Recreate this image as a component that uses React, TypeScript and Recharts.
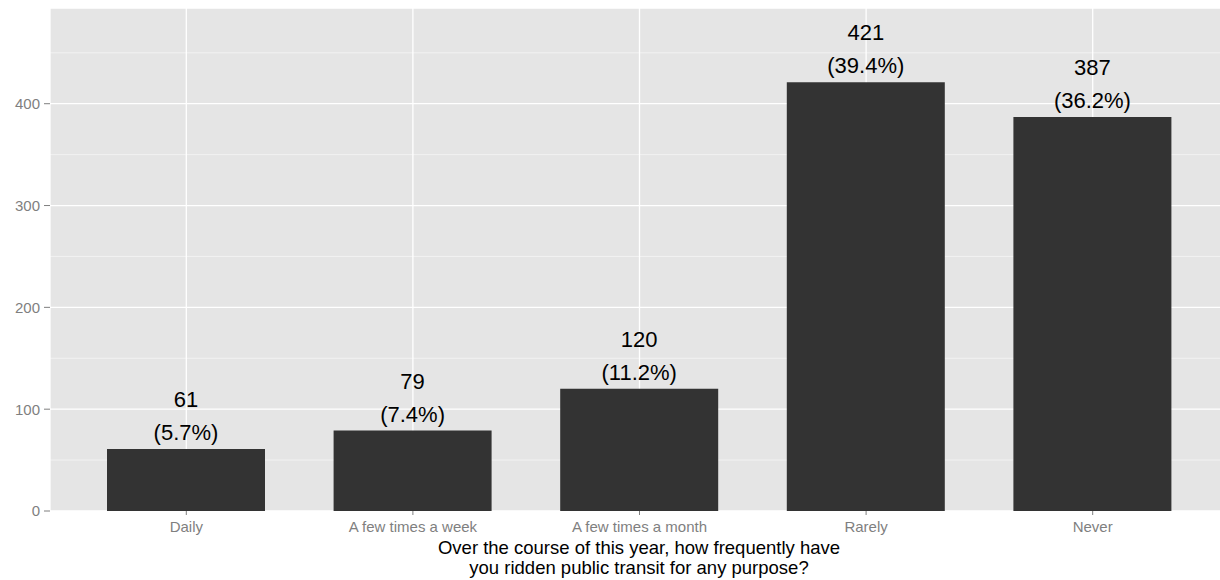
import React from "react"
import { BarChart, Bar, XAxis, YAxis, CartesianGrid, LabelList } from "recharts"

const categories = ["Daily", "A few times a week", "A few times a month", "Rarely", "Never"]
const counts = [61, 79, 120, 421, 387]
const shares = ["(5.7%)", "(7.4%)", "(11.2%)", "(39.4%)", "(36.2%)"]
const majorTicks = [0, 100, 200, 300, 400]
const minorTicks = [50, 150, 250, 350, 450]
const titleLines = [
  "Over the course of this year, how frequently have",
  "you ridden public transit for any purpose?",
]

const data = categories.map((name, i) => ({ name, count: counts[i], share: shares[i] }))

const FONT = "'Liberation Sans', Arial, Helvetica, sans-serif"
const AXIS_GREY = "#7f7f7f"

// axis title, two centred lines under the tick labels
const AxisTitle = (props: any) => {
  const vb = props.viewBox || {}
  const cx = vb.x + vb.width / 2
  return (
    <g fontSize={18.5} fill="#000" fontFamily={FONT}>
      {titleLines.map((line, i) => (
        <text key={i} x={cx} y={vb.y + 43 + i * 20} textAnchor="middle">{line}</text>
      ))}
    </g>
  )
}

export default function App() {
  return (
    <div style={{ position: "absolute", left: 0, top: 0, width: 1220, height: 580, overflow: "hidden", background: "#fff" }}>
      <BarChart
        width={1228}
        height={580}
        data={data}
        margin={{ top: 8, right: 0, bottom: 0, left: 0 }}
        barCategoryGap={0}
        style={{ fontFamily: FONT }}
      >
        <CartesianGrid
          fill="#e5e5e5"
          vertical={false}
          horizontalValues={minorTicks}
          stroke="#f2f2f2"
          strokeWidth={1}
        />
        <CartesianGrid stroke="#ffffff" strokeWidth={1.3} />
        <XAxis
          dataKey="name"
          height={69}
          padding={{ left: 23, right: 22 }}
          axisLine={false}
          tickSize={4}
          tickMargin={6}
          tickLine={{ stroke: AXIS_GREY }}
          tick={{ fill: AXIS_GREY, fontSize: 15 }}
          label={{ content: AxisTitle }}
        />
        <YAxis
          width={50}
          domain={[0, 494]}
          ticks={majorTicks}
          allowDataOverflow
          axisLine={false}
          tickSize={6}
          tickMargin={4}
          tickLine={{ stroke: AXIS_GREY }}
          tick={{ fill: AXIS_GREY, fontSize: 15 }}
        />
        <Bar dataKey="count" fill="#333333" barSize={158} isAnimationActive={false}>
          <LabelList dataKey="count" position="top" offset={42} fill="#000" fontSize={22} />
          <LabelList dataKey="share" position="top" offset={9} fill="#000" fontSize={22} />
        </Bar>
      </BarChart>
    </div>
  )
}
